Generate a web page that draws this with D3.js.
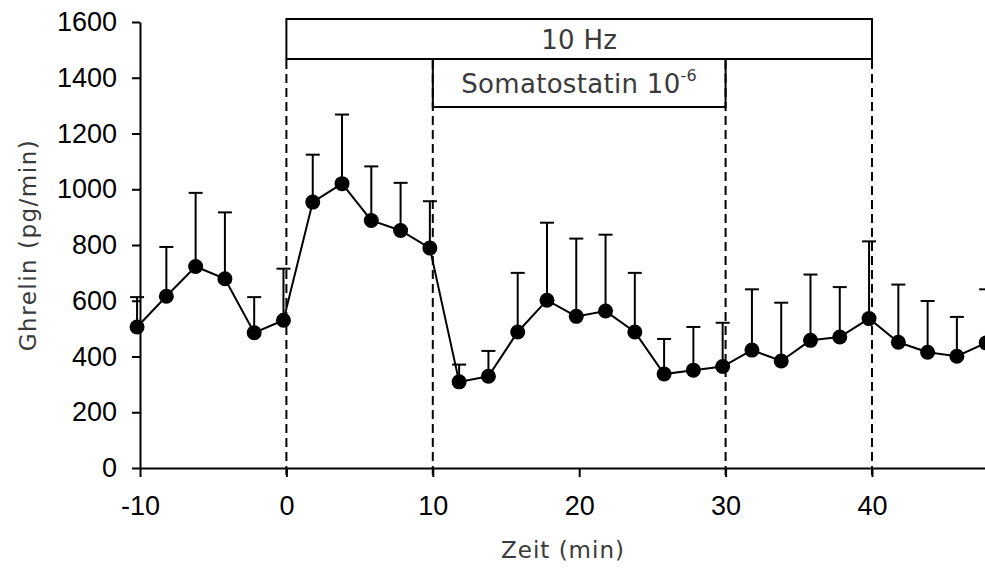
<!DOCTYPE html>
<html lang="de">
<head>
<meta charset="UTF-8">
<title>Ghrelin</title>
<script src="https://cdnjs.cloudflare.com/ajax/libs/d3/7.8.5/d3.min.js"></script>
<style>
    body { margin: 0; background: #fff; }
    svg { display: block; }
    .tick text { font-family: "Liberation Sans", Arial, sans-serif; font-size: 27px; fill: #000; }
    .label { font-family: "DejaVu Sans", sans-serif; fill: #3a3a3a; }
</style>
</head>
<body>
<svg id="chart"></svg>
<script>
// Data (time in min, ghrelin in pg/min, upper SEM)
const times = [-10.2, -8.2, -6.2, -4.2, -2.2, -0.2, 1.8, 3.8, 5.8, 7.8, 9.8, 11.8, 13.8, 15.8, 17.8,
               19.8, 21.8, 23.8, 25.8, 27.8, 29.8, 31.8, 33.8, 35.8, 37.8, 39.8, 41.8, 43.8, 45.8, 47.8];
const ghrelin = [506, 616, 723, 679, 485, 530, 954, 1020, 888, 852, 789, 309, 329, 488, 602,
                 544, 563, 488, 337, 351, 364, 423, 384, 458, 470, 536, 451, 415, 401, 449];
const sem = [107, 177, 264, 238, 128, 185, 170, 248, 194, 171, 168, 62, 91, 212, 278,
             279, 274, 212, 126, 155, 157, 218, 209, 236, 179, 277, 207, 184, 141, 192];
const xTicks = [-10, 0, 10, 20, 30, 40];
const yTicks = [0, 200, 400, 600, 800, 1000, 1200, 1400, 1600];
const periods = [
    { label: "10 Hz", start: 0, end: 40, row: 0 },
    { label: "Somatostatin 10", sup: "-6", start: 10, end: 30, row: 1 }
];
const markers = [0, 10, 30, 40];

const width = 985, height = 568;
const svg = d3.select("#chart").attr("width", width).attr("height", height);

const x = d3.scaleLinear().domain([-10, 48]).range([140, 989.1]);
const y = d3.scaleLinear().domain([0, 1600]).range([468, 22]);

const data = times.map((t, i) => ({ t, v: ghrelin[i], e: sem[i] }));

// Axes
svg.append("g")
    .attr("transform", `translate(0,${y(0)})`)
    .call(d3.axisBottom(x).tickValues(xTicks).tickFormat(d3.format("d")).tickSize(9).tickPadding(19).tickSizeOuter(0))
    .call(g => g.select(".domain").attr("stroke", "#000").attr("stroke-width", 2))
    .call(g => g.selectAll(".tick line").attr("stroke", "#000").attr("stroke-width", 2))
    .call(g => g.selectAll(".tick text").text(d => d < 0 ? "-" + Math.abs(d) : d));

svg.append("g")
    .attr("transform", `translate(${x(-10)},0)`)
    .call(d3.axisLeft(y).tickValues(yTicks).tickFormat(d3.format("d")).tickSize(8).tickPadding(15).tickSizeOuter(0))
    .call(g => g.select(".domain").attr("stroke", "#000").attr("stroke-width", 2))
    .call(g => g.selectAll(".tick line").attr("stroke", "#000").attr("stroke-width", 2));

// Period boxes
const rowTop = [19, 59], rowH = [40, 48];
periods.forEach(p => {
    svg.append("rect")
        .attr("x", x(p.start)).attr("y", rowTop[p.row])
        .attr("width", x(p.end) - x(p.start)).attr("height", rowH[p.row])
        .attr("fill", "#fff").attr("stroke", "#000").attr("stroke-width", 2);
    const txt = svg.append("text")
        .attr("class", "label")
        .attr("x", (x(p.start) + x(p.end)) / 2)
        .attr("y", rowTop[p.row] + rowH[p.row] / 2 + 10)
        .attr("text-anchor", "middle")
        .attr("font-size", 26)
        .attr("letter-spacing", 0.3)
        .text(p.label);
    if (p.sup) {
        txt.append("tspan").attr("dy", -12).attr("font-size", 16).text(p.sup);
    }
});

// Dashed marker lines
svg.append("g").selectAll("line")
    .data(markers)
    .join("line")
    .attr("x1", d => x(d)).attr("x2", d => x(d))
    .attr("y1", 60).attr("y2", y(0) + 10)
    .attr("stroke", "#000").attr("stroke-width", 2)
    .attr("stroke-dasharray", "9,5");

// Error bars (upper only)
const err = svg.append("g").attr("stroke", "#000").attr("stroke-width", 2);
err.selectAll(".stem").data(data).join("line")
    .attr("x1", d => x(d.t)).attr("x2", d => x(d.t))
    .attr("y1", d => y(d.v)).attr("y2", d => y(d.v + d.e));
err.selectAll(".cap").data(data).join("line")
    .attr("x1", d => x(d.t) - 7).attr("x2", d => x(d.t) + 7)
    .attr("y1", d => y(d.v + d.e)).attr("y2", d => y(d.v + d.e));

// Line and markers
svg.append("path")
    .datum(data)
    .attr("fill", "none").attr("stroke", "#000").attr("stroke-width", 2)
    .attr("d", d3.line().x(d => x(d.t)).y(d => y(d.v)));

svg.append("g").selectAll("circle")
    .data(data)
    .join("circle")
    .attr("cx", d => x(d.t)).attr("cy", d => y(d.v))
    .attr("r", 7.5).attr("fill", "#000");

// Axis titles
svg.append("text")
    .attr("class", "label")
    .attr("transform", `translate(36,${(y(0) + y(1600)) / 2}) rotate(-90)`)
    .attr("text-anchor", "middle")
    .attr("font-size", 23)
    .attr("letter-spacing", 1.5)
    .text("Ghrelin (pg/min)");

svg.append("text")
    .attr("class", "label")
    .attr("x", 563).attr("y", 558)
    .attr("text-anchor", "middle")
    .attr("font-size", 23)
    .attr("letter-spacing", 1)
    .text("Zeit (min)");
</script>
</body>
</html>
